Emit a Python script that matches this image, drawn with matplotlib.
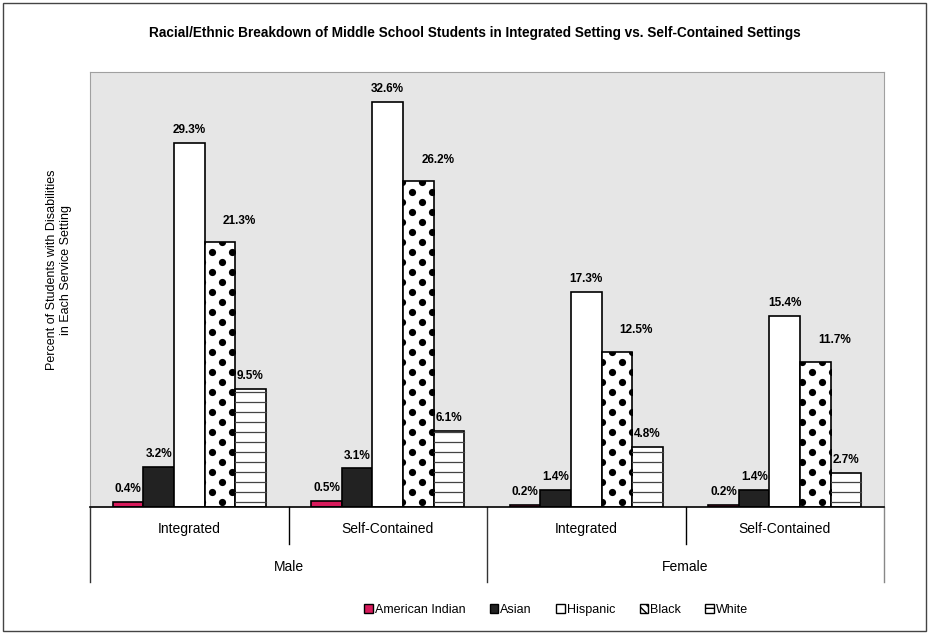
import matplotlib.pyplot as plt
import numpy as np
from matplotlib.patches import Patch, Rectangle
from matplotlib.transforms import blended_transform_factory

plt.rcParams['font.family'] = ['Liberation Sans', 'DejaVu Sans']

settings = ['Integrated', 'Self-Contained', 'Integrated', 'Self-Contained']
genders = ['Male', 'Female']
groups = ['American Indian', 'Asian', 'Hispanic', 'Black', 'White']

american_indian = [0.4, 0.5, 0.2, 0.2]
asian = [3.2, 3.1, 1.4, 1.4]
hispanic = [29.3, 32.6, 17.3, 15.4]
black = [21.3, 26.2, 12.5, 11.7]
white = [9.5, 6.1, 4.8, 2.7]

series = [american_indian, asian, hispanic, black, white]
faces = ['#d81b5c', '#222222', 'white', 'white', 'white']

W, H = 930, 635
fig = plt.figure(figsize=(W / 100, H / 100), dpi=100)
ax = fig.add_axes([90 / W, 128 / H, 794 / W, 435 / H])
ax.set_facecolor('#e6e6e6')
ax.set_xlim(-0.5, 3.5)
ax.set_ylim(0, 35)
ax.set_xticks([])
ax.set_yticks([])
for s in ['top', 'left', 'right']:
    ax.spines[s].set_color('#a0a0a0')
    ax.spines[s].set_linewidth(0.8)
ax.spines['bottom'].set_color('black')
ax.spines['bottom'].set_linewidth(1.2)

x = np.arange(len(settings))
bw = 0.154

for i, vals in enumerate(series):
    bars = ax.bar(x + (i - 2) * bw, vals, bw, color=faces[i],
                  edgecolor='black', linewidth=1.2, zorder=2)
    for b, v in zip(bars, vals):
        if groups[i] == 'Black':
            off = (14, 11)
        else:
            off = (0, 5)
        ax.annotate(f'{v}%', (b.get_x() + b.get_width() / 2, v),
                    xytext=off, textcoords='offset points', ha='center',
                    va='bottom', fontsize=8.5, fontweight='bold')

        # fill patterns laid out on a fixed pixel grid, clipped to the bar
        (px0, py0), (px1, py1) = ax.transData.transform(
            [(b.get_x(), 0), (b.get_x() + b.get_width(), v)])
        inv = ax.transData.inverted()
        if groups[i] == 'Black':
            pts = []
            for k, yy in enumerate(np.arange(py0 + 5, py1 + 10, 10)):
                start = 2 + (k % 2) * 10
                for xx in np.arange(start + 20 * np.floor((px0 - 20) / 20), px1 + 20, 20):
                    pts.append((xx, yy))
            d = inv.transform(pts)
            ln, = ax.plot(d[:, 0], d[:, 1], 'o', color='black', ms=5.2, mew=0, zorder=3)
            ln.set_clip_path(b)
        elif groups[i] == 'White':
            for yy in np.arange(py0 + 5, py1, 10):
                yd = inv.transform((0, yy))[1]
                ax.plot([b.get_x(), b.get_x() + b.get_width()], [yd, yd],
                        color='#444444', lw=0.9, zorder=3)

# category table under the axis
tr = blended_transform_factory(ax.transData, ax.transAxes)
for xb in [0.5, 2.5]:
    ax.plot([xb, xb], [0, -37 / 435], color='black', lw=1, transform=tr, clip_on=False)
for xb in [-0.5, 1.5, 3.5]:
    ax.plot([xb, xb], [0, -75 / 435], color='#333333' if xb < 3 else '#888888',
            lw=1, transform=tr, clip_on=False)
for xi, lab in zip(x, settings):
    ax.text(xi, -22 / 435, lab, transform=tr, ha='center', va='center', fontsize=10)
for gi, lab in enumerate(genders):
    ax.text(2 * gi + 0.5, -60 / 435, lab, transform=tr, ha='center', va='center', fontsize=10)

fig.text(475 / W, 1 - 33 / H,
         'Racial/Ethnic Breakdown of Middle School Students in Integrated Setting vs. Self-Contained Settings',
         ha='center', va='center', fontsize=9.8, fontweight='bold')
fig.text(59 / W, 1 - 270 / H,
         'Percent of Students with Disabilities\nin Each Service Setting',
         rotation=90, ha='center', va='center', multialignment='center', fontsize=9)

handles = [Patch(facecolor=faces[0], edgecolor='black', lw=1),
           Patch(facecolor=faces[1], edgecolor='black', lw=1),
           Patch(facecolor='white', edgecolor='black', lw=1),
           Patch(facecolor='white', edgecolor='black', lw=1, hatch='\\\\\\\\'),
           Patch(facecolor='white', edgecolor='black', lw=1, hatch='-')]
fig.legend(handles, groups, loc='center', bbox_to_anchor=(556 / W, 1 - 610 / H),
           ncol=5, frameon=False, fontsize=9, handlelength=0.7, handleheight=0.7,
           handletextpad=0.15, columnspacing=1.95)

fig.patches.append(Rectangle((3 / W, 4 / H), 923 / W, 628 / H, transform=fig.transFigure,
                             fill=False, edgecolor='#444444', lw=1))

fig.savefig('out.png', dpi=100)
